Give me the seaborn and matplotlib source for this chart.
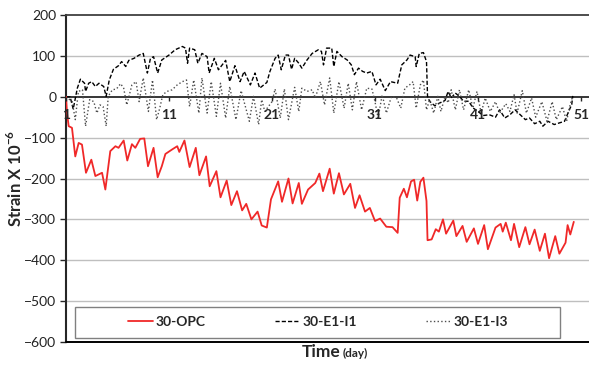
import numpy as np
import pandas as pd
import seaborn as sns
import matplotlib.pyplot as plt
from matplotlib.patches import Rectangle

# 30-OPC (red, solid)
opc_day = [1.0, 1.1, 1.26, 1.58, 1.9, 2.23, 2.55, 2.94, 3.46, 3.85, 4.5, 4.82, 5.3, 5.8, 6.1,
           6.6, 6.95, 7.4, 7.73, 8.2, 8.6, 8.96, 9.5, 9.9, 10.3, 10.65, 11.3, 11.8, 12.0, 12.5,
           13.0, 13.6, 13.95, 14.6, 14.95, 15.6, 16.0, 16.6, 17.05, 17.6, 18.1, 18.5, 19.0, 19.6,
           20.0, 20.5, 20.9, 21.6, 21.97, 22.6, 23.0, 23.6, 23.9, 24.5, 25.2, 25.6, 25.95, 26.6,
           27.0, 27.5, 27.98, 28.6, 29.06, 29.5, 30.03, 30.5, 31.0, 31.5, 32.1, 32.7, 33.2, 33.4,
           33.8, 34.1, 34.5, 34.8, 35.1, 35.4, 35.7, 36.0, 36.1, 36.5, 36.9, 37.2, 37.6, 37.9,
           38.6, 38.9, 39.5, 39.9, 40.6, 41.0, 41.6, 41.96, 42.7, 43.2, 43.4, 43.7, 44.2, 44.5,
           45.0, 45.6, 46.0, 46.5, 47.0, 47.5, 47.9, 48.5, 48.9, 49.5, 49.7, 49.96, 50.3]
opc_val = [0, -40, -72, -76, -146, -113, -117, -186, -154, -194, -186, -227, -133, -121, -125,
           -107, -156, -116, -125, -103, -102, -170, -125, -197, -170, -140, -129, -121, -135, -107,
           -172, -125, -192, -146, -219, -182, -246, -205, -265, -231, -278, -262, -300, -281,
           -315, -320, -251, -207, -257, -200, -261, -211, -262, -227, -211, -188, -231, -176,
           -237, -187, -239, -213, -272, -241, -281, -272, -304, -298, -318, -319, -333, -247,
           -225, -246, -207, -203, -254, -208, -198, -255, -351, -349, -324, -330, -300, -335,
           -303, -341, -316, -355, -322, -360, -314, -373, -320, -311, -330, -308, -351, -311,
           -368, -319, -361, -325, -377, -335, -395, -341, -384, -357, -314, -337, -306]

# 30-E1-I1 (black, dashed)
i1_day = [1.0, 1.4, 1.7, 2.1, 2.4, 2.8, 2.9, 3.2, 3.5, 3.85, 4.2, 4.66, 4.9, 5.2, 5.6, 6.1, 6.4,
          6.8, 7.1, 7.6, 8.1, 8.5, 8.9, 9.2, 9.5, 9.9, 10.3, 11.0, 11.6, 12.3, 12.6, 12.8, 13.0,
          13.5, 13.8, 14.2, 14.7, 14.9, 15.4, 15.8, 16.5, 16.9, 17.4, 17.9, 18.3, 18.9, 19.35,
          19.8, 20.5, 20.8, 21.3, 21.6, 21.9, 22.3, 22.6, 22.9, 23.2, 23.6, 23.9, 24.4, 24.9,
          25.5, 25.8, 26.0, 26.3, 26.8, 27.0, 27.3, 27.8, 28.3, 28.7, 29.0, 29.4, 29.8, 30.2,
          30.7, 31.1, 31.5, 32.0, 32.5, 33.2, 33.6, 34.1, 34.4, 34.9, 35.0, 35.3, 35.7, 36.0,
          36.1, 36.3, 36.8, 37.3, 37.8, 38.1, 38.4, 38.8, 39.2, 39.6, 40.1, 40.5, 41.0, 41.5,
          42.1, 42.7, 43.1, 43.6, 44.1, 44.6, 45.1, 45.6, 46.0, 46.5, 47.0, 47.3, 47.8, 48.4,
          48.9, 49.4, 49.8, 50.1, 50.2]
i1_val = [0, 0, -30, 21, 43, 33, 13, 33, 37, 25, 33, 25, 1, 41, 67, 76, 86,
          74, 89, 94, 102, 106, 58, 94, 98, 58, 90, 102, 115, 123, 119, 82, 119,
          115, 82, 106, 98, 58, 94, 66, 89, 37, 76, 37, 62, 29, 58,
          21, 35, 62, 94, 102, 66, 102, 102, 67, 94, 82, 70, 90, 106,
          115, 111, 78, 119, 119, 74, 111, 98, 90, 78, 54, 70, 62, 58,
          62, 29, 43, 15, 37, 33, 78, 90, 102, 98, 74, 106, 108, 86,
          1, -11, -22, -15, -9, 13, -3, 9, 1, -11, -11, -27, -36, -46,
          -44, -50, -32, -52, -44, -32, -44, -56, -52, -66, -60, -72, -60, -68,
          -64, -60, -36, -19, 2]

# 30-E1-I3 (grey, dotted)
i3_day = [1.0, 1.6, 1.9, 2.2, 2.6, 2.9, 3.3, 3.7, 4.0, 4.3, 4.6, 4.9, 5.1, 5.5, 5.9, 6.3, 6.6,
          6.9, 7.4, 7.8, 8.1, 8.5, 9.0, 9.4, 9.8, 10.1, 10.4, 10.8, 11.3, 11.8, 12.3, 12.7, 13.0,
          13.4, 13.9, 14.2, 14.7, 15.1, 15.6, 16.0, 16.5, 16.9, 17.5, 18.0, 18.8, 19.2, 19.7,
          20.0, 20.3, 21.0, 21.3, 21.8, 22.2, 22.6, 23.2, 23.6, 23.9, 24.4, 24.9, 25.2, 25.7,
          26.1, 26.6, 27.0, 27.5, 28.0, 28.4, 28.8, 29.2, 29.7, 30.2, 30.7, 31.0, 31.3, 31.7,
          32.1, 32.6, 33.1, 33.5, 33.9, 34.4, 34.7, 35.0, 35.4, 35.7, 36.0, 36.3, 36.7, 37.1,
          37.4, 37.8, 38.1, 38.4, 38.8, 39.2, 39.6, 40.1, 40.5, 40.9, 41.3, 41.7, 42.2, 42.7,
          43.1, 43.7, 44.1, 44.5, 44.8, 45.3, 45.7, 46.2, 46.6, 47.2, 47.7, 48.2, 48.6, 49.2,
          49.6, 49.9, 50.2]
i3_val = [0, -12, -56, 13, 17, -72, -7, -12, -40, -20, -24, -72, 1, 17, 19, 32, 21,
          -20, 29, 37, -12, 46, -36, 41, -56, -28, 5, 13, 17, 29, 37, 41, -24,
          41, -40, 46, -40, 37, -48, 33, -52, 25, -56, 15, -60, 1, -68,
          -7, -36, -12, 19, -52, 19, -56, 23, -36, 21, 13, 17, -3, 37,
          -20, 46, -40, 37, -28, 33, -32, 37, -32, 21, 19, -12, -52, 5,
          -40, 1, -3, -28, 21, 30, 37, -28, 29, 41, -32, -7, -40, 1,
          -36, 1, -15, 17, -32, 17, -32, 17, -28, 13, -40, -3, -36, -12,
          -40, -17, -36, 5, -40, 15, -40, -3, -50, -12, -60, -12, -56, -24,
          -60, -24, 2]

x_ticks = [1, 11, 21, 31, 41, 51]
y_ticks = [-600, -500, -400, -300, -200, -100, 0, 100, 200]

sns.set_style("white")
plt.rcParams['font.family'] = ['Lato', 'DejaVu Sans']
plt.rcParams['mathtext.fontset'] = 'custom'
plt.rcParams['mathtext.rm'] = 'Lato'
plt.rcParams['mathtext.bf'] = 'Lato:bold'

W, H = 589, 366
fig = plt.figure(figsize=(W / 100, H / 100), dpi=100)
ax = fig.add_axes([66 / W, 1 - 342 / H, (595 - 66) / W, 327 / H])

opc = pd.DataFrame({"day": opc_day, "strain": opc_val})
i1 = pd.DataFrame({"day": i1_day, "strain": i1_val})
i3 = pd.DataFrame({"day": i3_day, "strain": i3_val})

sns.lineplot(data=opc, x="day", y="strain", ax=ax, sort=False, color="#f02828",
             lw=1.3, label="30-OPC", zorder=4)
sns.lineplot(data=i1, x="day", y="strain", ax=ax, sort=False, color="black",
             lw=1.0, label="30-E1-I1", zorder=3).lines[-1].set_dashes([3, 1.5])
sns.lineplot(data=i3, x="day", y="strain", ax=ax, sort=False, color="#4d4d4d",
             lw=1.0, label="30-E1-I3", zorder=3).lines[-1].set_linestyle(":")

ax.set_xlim(1, 1 + (595 - 66) / 10.3)
ax.set_ylim(-600, 200)
ax.set_yticks(y_ticks)
ax.set_xticks(x_ticks)
ax.set_xlabel("")
ax.set_ylabel("")

for y in [100, -100, -200, -300, -400, -500]:
    ax.axhline(y, color="#bfbfbf", lw=1.0, zorder=1)
ax.axhline(-600, color="black", lw=1.4, clip_on=False, zorder=5)

ax.spines['bottom'].set_position(('data', 0))
ax.spines['bottom'].set_linewidth(1.3)
ax.spines['bottom'].set_zorder(2)
ax.spines['left'].set_linewidth(1.5)
ax.spines['top'].set_color('#404040')
ax.spines['top'].set_linewidth(1.3)
ax.spines['right'].set_visible(False)
ax.xaxis.set_zorder(6)

ax.tick_params(axis='y', direction='out', length=4, width=1, labelsize=10, pad=3,
               left=True, labelcolor='#222222')
ax.tick_params(axis='x', direction='out', length=3, width=1, labelsize=10, pad=6,
               bottom=True)
for t in ax.get_xticklabels():
    t.set_fontweight('bold')

fig.text(15 / W, 1 - 178 / H, r"Strain X 10$^{\mathbf{-6}}$", rotation=90,
         ha='center', va='center', fontsize=12, fontweight='bold')
fig.text(341 / W, 1 - 357 / H, "Time", ha='right', va='baseline',
         fontsize=12.5, fontweight='bold')
fig.text(343 / W, 1 - 357 / H, "(day)", ha='left', va='baseline',
         fontsize=8.5, fontweight='bold')

fig.patches.append(Rectangle((75 / W, 1 - 338 / H), (560 - 75) / W, 31 / H,
                             transform=fig.transFigure, fill=False,
                             edgecolor='#808080', lw=1.0))
ax.legend(loc='center', bbox_to_anchor=(318 / W, 1 - 322 / H),
          bbox_transform=fig.transFigure, ncol=3, frameon=False,
          columnspacing=5.0, handlelength=1.8, handletextpad=0.15,
          prop={'weight': 'bold', 'size': 10})

fig.savefig("out.png", dpi=100)
